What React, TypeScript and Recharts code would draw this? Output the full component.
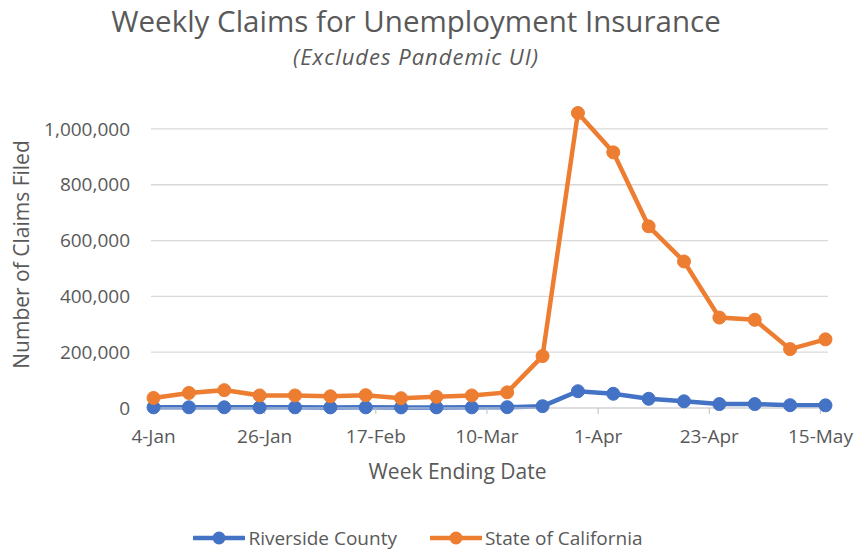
import React from "react";
import {
  LineChart,
  Line,
  XAxis,
  YAxis,
  CartesianGrid,
  Legend,
  Label,
} from "recharts";

// days since 4-Jan for each week ending date
const weekDay = [0, 7, 14, 21, 28, 35, 42, 49, 56, 63, 70, 77, 84, 91, 98, 105, 112, 119, 126, 133];
const weekEnding = [
  "4-Jan", "11-Jan", "18-Jan", "25-Jan", "1-Feb", "8-Feb", "15-Feb", "22-Feb", "29-Feb", "7-Mar",
  "14-Mar", "21-Mar", "28-Mar", "4-Apr", "11-Apr", "18-Apr", "25-Apr", "2-May", "9-May", "16-May",
];
const riverside = [
  2400, 2500, 2600, 2300, 2300, 2200, 2300, 2100, 2200, 2300,
  2900, 6500, 60000, 51000, 33000, 24000, 14000, 14000, 10000, 9500,
];
const california = [
  36000, 54000, 64000, 45000, 45000, 42000, 46000, 35000, 40000, 45000,
  56000, 186000, 1057000, 916000, 651000, 525000, 324000, 316000, 211000, 246000,
];

const tickDays = [0, 22, 44, 66, 88, 110, 132];
const tickLabels = ["4-Jan", "26-Jan", "17-Feb", "10-Mar", "1-Apr", "23-Apr", "15-May"];
const yTicks = [0, 200000, 400000, 600000, 800000, 1000000];

const BLUE = "#4472C4";
const ORANGE = "#ED7D31";
const TEXT = "#595959";
const FONT = "'Open Sans', sans-serif";

const data = weekDay.map((d, i) => ({
  day: d,
  week: weekEnding[i],
  riverside: riverside[i],
  california: california[i],
}));

const renderLegend = (props: any) => {
  const items = props.payload || [];
  return (
    <div style={{ display: "flex", justifyContent: "center", fontFamily: FONT, fontSize: 19, color: TEXT, paddingLeft: 8 }}>
      {items.map((it: any, i: number) => (
        <div key={i} style={{ display: "flex", alignItems: "center", marginRight: i === 0 ? 33 : 0 }}>
          <svg width={52} height={16} style={{ marginRight: 3 }}>
            <line x1={1} y1={8} x2={51} y2={8} stroke={it.color} strokeWidth={4.5} strokeLinecap="round" />
            <circle cx={26} cy={8} r={6.5} fill={it.color} />
          </svg>
          <span>{it.value}</span>
        </div>
      ))}
    </div>
  );
};

export default function App() {
  return (
    <div style={{ position: "absolute", left: 0, top: 0, width: 857, height: 552, background: "#fff" }}>
      <div
        style={{
          position: "absolute", left: 0, width: 832, top: 0, textAlign: "center",
          fontFamily: FONT, fontSize: 29.5, color: TEXT,
        }}
      >
        Weekly Claims for Unemployment Insurance
      </div>
      <div
        style={{
          position: "absolute", left: 0, width: 832, top: 41, textAlign: "center",
          fontFamily: FONT, fontSize: 22, fontStyle: "italic", color: TEXT, letterSpacing: 1,
        }}
      >
        (Excludes Pandemic UI)
      </div>
      <LineChart
        width={857}
        height={552}
        data={data}
        margin={{ top: 101, right: 29, bottom: 3, left: 0 }}
      >
        <CartesianGrid vertical={false} stroke="#D9D9D9" strokeWidth={1.3} horizontalValues={yTicks} />
        <XAxis
          dataKey="day"
          type="number"
          domain={[-0.5, 133.5]}
          ticks={tickDays}
          tickFormatter={(v: number) => tickLabels[tickDays.indexOf(v)]}
          height={117}
          stroke="#D9D9D9"
          tickSize={6}
          tickMargin={16}
          tick={{ fill: TEXT, fontSize: 19, fontFamily: FONT }}
          tickLine={{ stroke: "#BFBFBF" }}
        >
          <Label
            value="Week Ending Date"
            position="insideTop"
            offset={56}
            dx={-32}
            style={{ fill: TEXT, fontSize: 21, fontFamily: FONT }}
          />
        </XAxis>
        <YAxis
          domain={[0, 1100000]}
          ticks={yTicks}
          width={151}
          axisLine={false}
          tickLine={false}
          tickSize={0}
          tickMargin={21}
          tickFormatter={(v: number) => v.toLocaleString("en-US")}
          tick={{ fill: TEXT, fontSize: 19, fontFamily: FONT }}
        >
          <Label
            value="Number of Claims Filed"
            angle={-90}
            position="insideLeft"
            offset={22}
            style={{ fill: TEXT, fontSize: 21, fontFamily: FONT, textAnchor: "middle" }}
          />
        </YAxis>
        <Legend verticalAlign="bottom" height={24} content={renderLegend} />
        <Line
          name="Riverside County"
          dataKey="riverside"
          stroke={BLUE}
          strokeWidth={4.5}
          dot={{ r: 6.5, fill: BLUE, stroke: BLUE, strokeWidth: 1 }}
          activeDot={false}
          isAnimationActive={false}
        />
        <Line
          name="State of California"
          dataKey="california"
          stroke={ORANGE}
          strokeWidth={4.5}
          dot={{ r: 6.5, fill: ORANGE, stroke: ORANGE, strokeWidth: 1 }}
          activeDot={false}
          isAnimationActive={false}
        />
      </LineChart>
    </div>
  );
}
